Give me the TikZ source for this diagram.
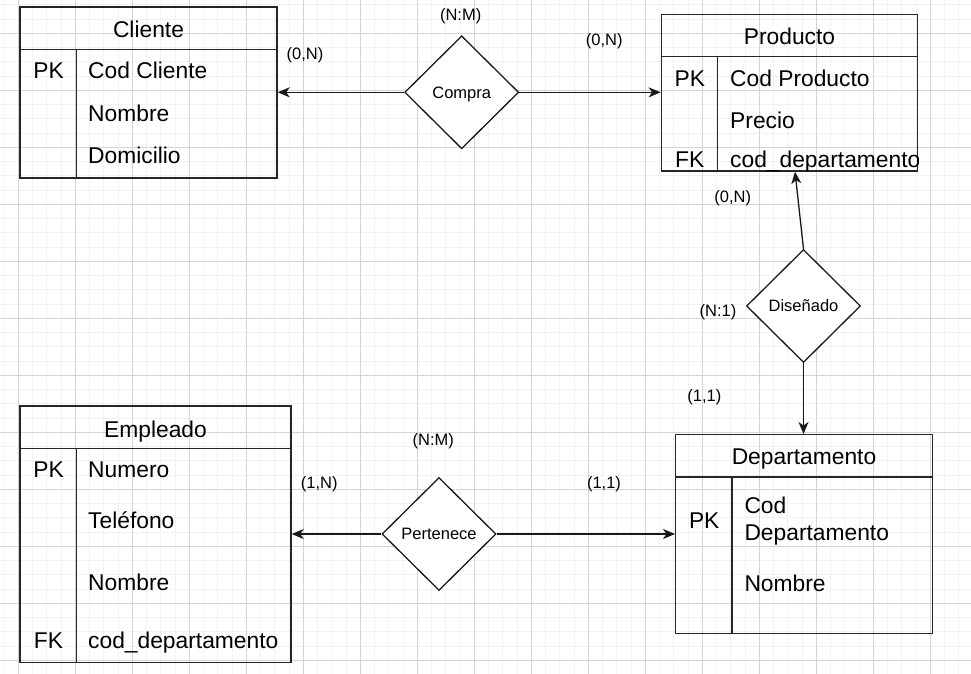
\documentclass[tikz,border=0pt]{standalone}
\usepackage{fontspec}
\setmainfont{Liberation Sans}
\usetikzlibrary{arrows.meta, shapes.geometric}

\newcommand{\entfont}{\fontsize{22.8}{27.7}\selectfont}
\newcommand{\relfont}{\fontsize{16.5}{19}\selectfont}

\begin{document}
\begin{tikzpicture}[
    x=1pt, y=-1pt,
    >={Stealth[length=12pt, width=10pt, inset=3.5pt]},
    minorgrid/.style={draw=black!5, line width=1pt},
    majorgrid/.style={draw=black!17, line width=1pt},
    entity/.style={rectangle, draw=black!85, line width=1.4pt, inner sep=0pt},
    entline/.style={draw=black!85, line width=1.4pt},
    relation/.style={diamond, aspect=1, draw=black!90, fill=white, line width=1.3pt, minimum width=114pt, minimum height=113pt, inner sep=0pt, text height=11.8pt, text depth=0pt, font=\relfont},
    entname/.style={font=\entfont, inner sep=0pt, text height=16.3pt, text depth=0pt},
    keycol/.style={font=\entfont, inner sep=0pt, text height=16.3pt, text depth=0pt},
    attr/.style={font=\entfont, anchor=west, inner sep=0pt, text height=16.3pt, text depth=0pt},
    card/.style={font=\relfont, inner sep=0pt, text height=11.8pt, text depth=0pt},
    conn/.style={->, line width=1.3pt, draw=black!90},
]

% === Background and grid ===
\fill[white] (0,0) rectangle (971,674);
\useasboundingbox (0,0) rectangle (971,674);
\foreach \i in {0,...,67} \draw[minorgrid] ({4.05+14.25*\i},0) -- ({4.05+14.25*\i},674);
\foreach \j in {0,...,46} \draw[minorgrid] (0,{4.8+14.25*\j}) -- (971,{4.8+14.25*\j});
\foreach \i in {0,...,16} \draw[majorgrid] ({18.3+57*\i},0) -- ({18.3+57*\i},674);
\foreach \j in {0,...,11} \draw[majorgrid] (0,{33.3+57*\j}) -- (971,{33.3+57*\j});

% === Entity Cliente ===
\node[entity, minimum width=257pt, minimum height=171pt] (cliente) at (148.5, 92.5) {};
\draw[entline] ([yshift=-43pt]cliente.north west) -- ([yshift=-43pt]cliente.north east);
\draw[entline] ([xshift=57pt, yshift=-43pt]cliente.north west) -- ([xshift=57pt]cliente.south west);
\node[entname] (clienteName) at (148.5, 29.5) {Cliente};
\node[keycol] (clientePK) at (48.5, 70) {PK};
\node[attr] (clienteCod) at (88, 70) {Cod Cliente};
\node[attr] (clienteNom) at (88, 113) {Nombre};
\node[attr] (clienteDom) at (88, 155.5) {Domicilio};

% === Entity Producto ===
\node[entity, minimum width=256.4pt, minimum height=156.7pt] (producto) at (789.5, 92.7) {};
\draw[entline] ([yshift=-43pt]producto.north west) -- ([yshift=-43pt]producto.north east);
\draw[entline] ([xshift=57pt, yshift=-43pt]producto.north west) -- ([xshift=57pt]producto.south west);
\node[entname] (productoName) at (789.5, 36) {Producto};
\node[keycol] (productoPK) at (689.8, 78) {PK};
\node[attr] (productoCod) at (730, 78) {Cod Producto};
\node[attr] (productoPre) at (730, 120.7) {Precio};
\node[keycol] (productoFK) at (689.8, 159.3) {FK};
% text runs past the box, so it is cut at the border
\begin{scope}
\clip (producto.north west) rectangle (producto.south east);
\node[attr] (productoDep) at (730, 159.3) {cod\_departamento};
\end{scope}

% === Entity Empleado ===
\node[entity, minimum width=271pt, minimum height=256.3pt] (empleado) at (155.5, 534.2) {};
\draw[entline] ([yshift=-43pt]empleado.north west) -- ([yshift=-43pt]empleado.north east);
\draw[entline] ([xshift=57pt, yshift=-43pt]empleado.north west) -- ([xshift=57pt]empleado.south west);
\node[entname] (empleadoName) at (155.5, 429) {Empleado};
\node[keycol] (empleadoPK) at (48.5, 469) {PK};
\node[attr] (empleadoNum) at (88, 469) {Numero};
\node[attr] (empleadoTel) at (88, 520) {Teléfono};
\node[attr] (empleadoNom) at (88, 582.7) {Nombre};
\node[keycol] (empleadoFK) at (48.5, 640) {FK};
\node[attr] (empleadoDep) at (88, 640) {cod\_departamento};

% === Entity Departamento ===
\node[entity, minimum width=256.6pt, minimum height=199pt] (departamento) at (804, 534.2) {};
\draw[entline] ([yshift=-43pt]departamento.north west) -- ([yshift=-43pt]departamento.north east);
\draw[entline] ([xshift=57pt, yshift=-43pt]departamento.north west) -- ([xshift=57pt]departamento.south west);
\node[entname] (departamentoName) at (804, 456.5) {Departamento};
\node[keycol] (departamentoPK) at (704.2, 520) {PK};
\node[font=\entfont, anchor=west, inner sep=0pt, align=left] (departamentoCod) at (744.3, 521) {Cod\\Departamento};
\node[attr] (departamentoNom) at (744.3, 583.3) {Nombre};

% === Relationships ===
\node[relation] (compra) at (461.7, 92.3) {Compra};
\node[relation] (pertenece) at (439, 534) {Pertenece};
\node[relation] (disenado) at (803.5, 306) {Diseñado};

% === Connectors ===
\draw[conn] (compra.west) -- (compra.west -| cliente.east);
\draw[conn] (compra.east) -- (compra.east -| producto.west);
\draw[conn] (pertenece.west) -- (pertenece.west -| empleado.east);
\draw[conn] (pertenece.east) -- (pertenece.east -| departamento.west);
\draw[conn] (disenado.north) -- ([xshift=5.5pt]producto.south);
\draw[conn] (disenado.south) -- (disenado.south |- departamento.north);

% === Cardinalities ===
\node[card] (compraTipo) at (460.7, 14.3) {(N:M)};
\node[card] (compraCli) at (305, 54) {(0,N)};
\node[card] (compraProd) at (604.3, 40) {(0,N)};
\node[card] (disenadoProd) at (732.7, 196.7) {(0,N)};
\node[card] (disenadoTipo) at (718, 310.7) {(N:1)};
\node[card] (disenadoDep) at (704.3, 395.7) {(1,1)};
\node[card] (perteneceTipo) at (433.3, 439.3) {(N:M)};
\node[card] (perteneceEmp) at (319.3, 482.3) {(1,N)};
\node[card] (perteneceDep) at (604, 482.3) {(1,1)};

\end{tikzpicture}
\end{document}
